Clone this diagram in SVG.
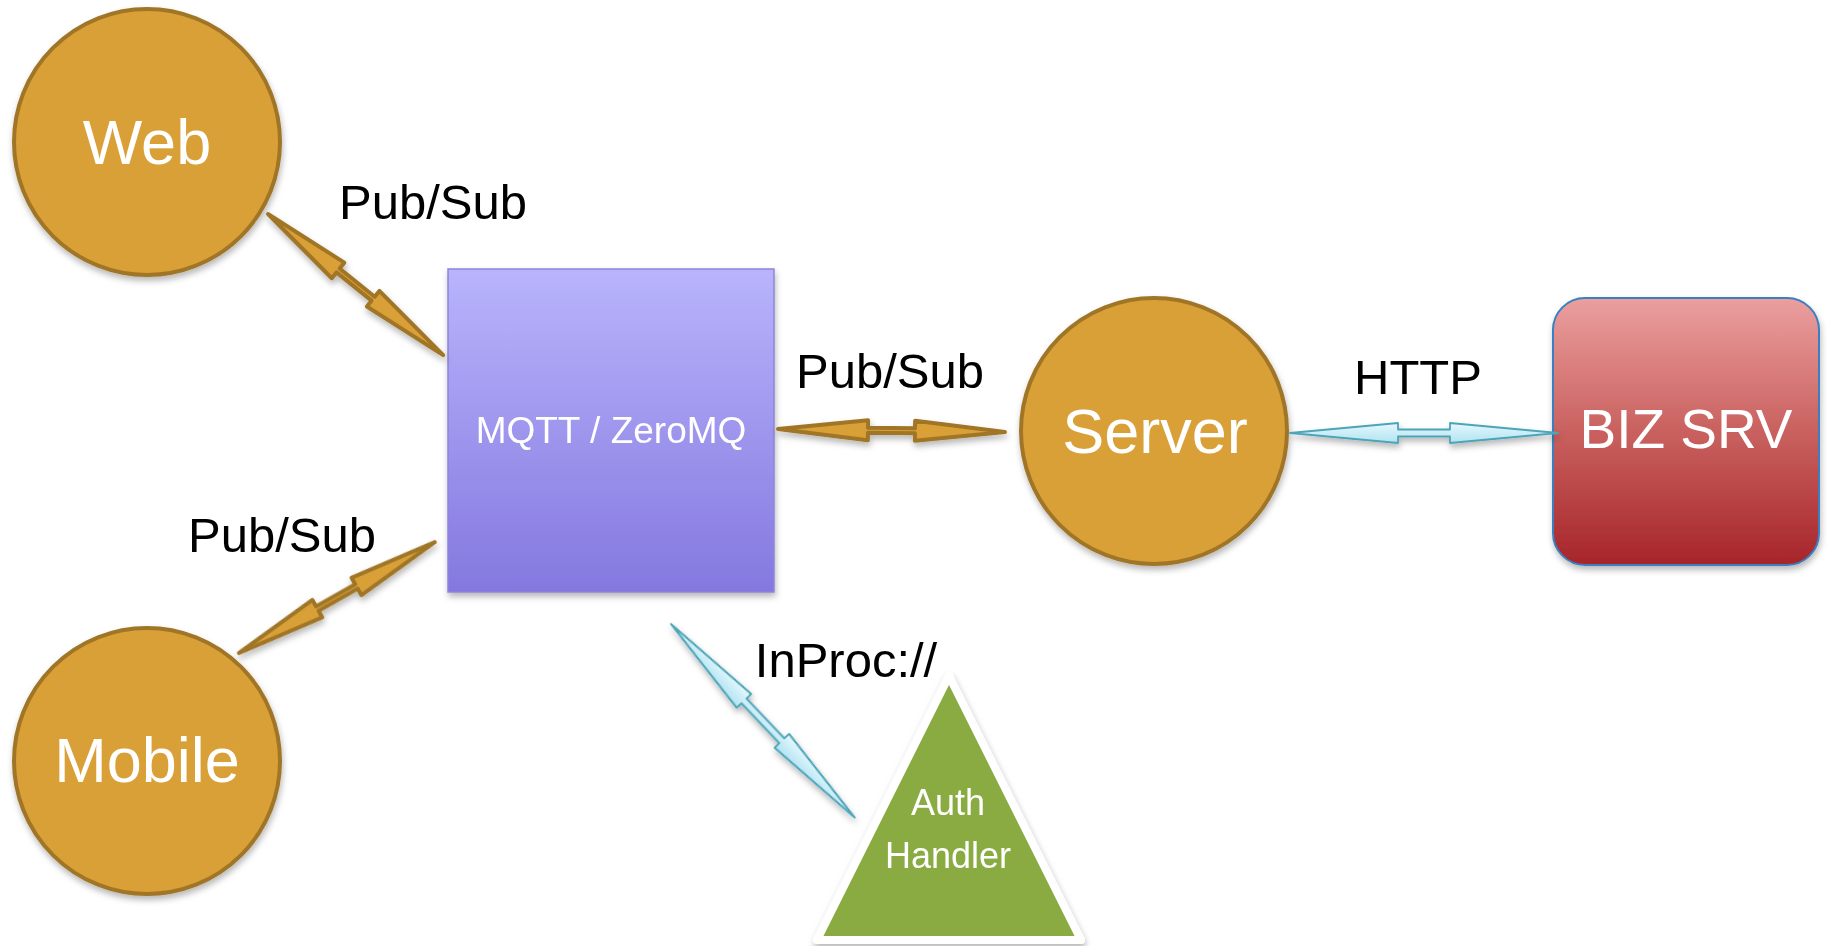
<svg xmlns="http://www.w3.org/2000/svg" width="1827" height="946" viewBox="0 0 1827 946">
  <defs>
    <linearGradient id="gradBroker" x1="0" y1="0" x2="0" y2="1">
      <stop offset="0" stop-color="#b9b4fc"/>
      <stop offset="1" stop-color="#8478df"/>
    </linearGradient>
    <linearGradient id="gradBiz" x1="0" y1="0" x2="0" y2="1">
      <stop offset="0" stop-color="#eb9f9f"/>
      <stop offset="0.5" stop-color="#c9615f"/>
      <stop offset="1" stop-color="#a7252a"/>
    </linearGradient>
    <linearGradient id="gradLink" x1="0" y1="0" x2="0" y2="1">
      <stop offset="0" stop-color="#e6f8fd"/>
      <stop offset="1" stop-color="#b0e3f1"/>
    </linearGradient>
    <filter id="shadow" x="-20%" y="-20%" width="140%" height="140%">
      <feDropShadow dx="1" dy="4" stdDeviation="3" flood-color="#000" flood-opacity="0.28"/>
    </filter>
  </defs>
  <style>
    .hub { fill: #d9a038; stroke: #a07628; stroke-width: 4; }
    .hubText { font-family: "Liberation Sans", Arial, sans-serif; font-size: 63px; fill: #ffffff; text-anchor: middle; }
    .label { font-family: "Liberation Sans", Arial, sans-serif; font-size: 49px; fill: #000000; text-anchor: middle; }
    .gold { fill: #d9a038; stroke: #a07628; stroke-width: 4; stroke-linejoin: round; }
    .cyan { fill: url(#gradLink); stroke: #4ea4b8; stroke-width: 1.8; stroke-linejoin: round; }
  </style>

  <rect x="0" y="0" width="1827" height="946" fill="#ffffff"/>

  <!-- clients -->
  <g id="web" filter="url(#shadow)">
    <circle class="hub" cx="147" cy="142" r="133"/>
    <text class="hubText" x="147" y="164">Web</text>
  </g>
  <g id="mobile" filter="url(#shadow)">
    <circle class="hub" cx="147" cy="761" r="133"/>
    <text class="hubText" x="147" y="782">Mobile</text>
  </g>

  <!-- message broker -->
  <g id="broker" filter="url(#shadow)">
    <rect x="448" y="269" width="326" height="323" fill="url(#gradBroker)" stroke="#8c84dd" stroke-width="1.5"/>
    <text x="611" y="443" font-family="Liberation Sans, Arial, sans-serif" font-size="37" fill="#ffffff" text-anchor="middle">MQTT / ZeroMQ</text>
  </g>

  <!-- backend server -->
  <g id="server" filter="url(#shadow)">
    <circle class="hub" cx="1154" cy="431" r="133"/>
    <text class="hubText" x="1155" y="453">Server</text>
  </g>

  <!-- business service -->
  <g id="biz-srv" filter="url(#shadow)">
    <rect x="1553" y="298" width="266" height="267" rx="32" ry="32" fill="url(#gradBiz)" stroke="#3a7fc1" stroke-width="2"/>
    <text x="1686" y="448" font-family="Liberation Sans, Arial, sans-serif" font-size="55" fill="#ffffff" text-anchor="middle">BIZ SRV</text>
  </g>

  <!-- auth handler -->
  <g id="auth-handler" filter="url(#shadow)">
    <polygon points="949,676 817,940 1081,940" fill="#8aab43" stroke="#ffffff" stroke-width="8" stroke-linejoin="round"/>
    <text x="948" y="815" font-family="Liberation Sans, Arial, sans-serif" font-size="36" fill="#ffffff" text-anchor="middle">Auth</text>
    <text x="948" y="868" font-family="Liberation Sans, Arial, sans-serif" font-size="36" fill="#ffffff" text-anchor="middle">Handler</text>
  </g>

  <!-- double-headed links -->
  <g id="connectors" filter="url(#shadow)">
    <!-- Web <-> broker -->
    <polygon class="gold" transform="translate(268,214) rotate(38.86)"
      points="0,0 90,-10 90,-2.5 135,-2.5 135,-10 225,0 135,10 135,2.5 90,2.5 90,10"/>
    <!-- Mobile <-> broker -->
    <polygon class="gold" transform="translate(239,653) rotate(-29.52)"
      points="0,0 90,-10 90,-2.5 135,-2.5 135,-10 225,0 135,10 135,2.5 90,2.5 90,10"/>
    <!-- broker <-> Server -->
    <polygon class="gold" transform="translate(778,429) rotate(0.76)"
      points="0,0 90,-10 90,-2.5 137,-2.5 137,-10 227,0 137,10 137,2.5 90,2.5 90,10"/>
    <!-- Server <-> BIZ SRV -->
    <polygon class="cyan" transform="translate(1290,433)"
      points="0,0 108,-10 108,-3.5 160,-3.5 160,-10 268,0 160,10 160,3.5 108,3.5 108,10"/>
    <!-- broker <-> Auth Handler -->
    <polygon class="cyan" transform="translate(671,624) rotate(46.5)"
      points="0,0 106,-10 106,-3.5 161,-3.5 161,-10 267,0 161,10 161,3.5 106,3.5 106,10"/>
  </g>

  <!-- link labels -->
  <g id="labels">
    <text class="label" x="433" y="219">Pub/Sub</text>
    <text class="label" x="890" y="388">Pub/Sub</text>
    <text class="label" x="282" y="552">Pub/Sub</text>
    <text class="label" x="1418" y="394">HTTP</text>
    <text class="label" x="846" y="677">InProc://</text>
  </g>
</svg>
